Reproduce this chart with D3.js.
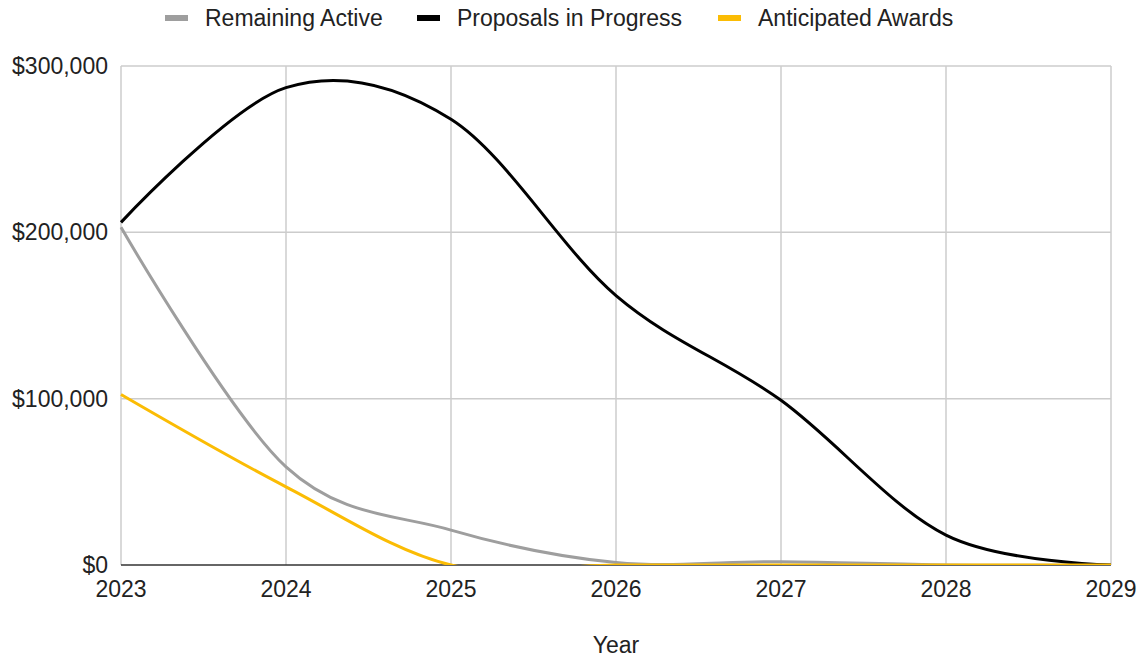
<!DOCTYPE html>
<html>
<head>
<meta charset="utf-8">
<script src="https://cdn.jsdelivr.net/npm/d3@7"></script>
<style>
  body { margin: 0; background: #fff; }
  text { font-family: "Liberation Sans", Arial, sans-serif; }
</style>
</head>
<body>
<div id="chart"></div>
<script>
// data
var years = [2023, 2024, 2025, 2026, 2027, 2028, 2029];
var remainingActive = [203000, 59000, 21000, 1500, 2000, 0, 0];
var proposalsInProgress = [206000, 287000, 268000, 162000, 99000, 18000, 0];
var anticipatedAwards = [102500, 47000, 0, 0, 0, 0, 0];
var yTicks = [0, 100000, 200000, 300000];
var seriesNames = ["Remaining Active", "Proposals in Progress", "Anticipated Awards"];
var seriesColors = ["#9e9e9e", "#000000", "#fbbc04"];

var svgWidth = 1145, svgHeight = 659;
var margin = { top: 66, right: 34, bottom: 94, left: 121 };
var width = svgWidth - margin.left - margin.right;
var height = svgHeight - margin.top - margin.bottom;
var fontSize = 23;

var svg = d3.select("#chart").append("svg")
    .attr("width", svgWidth)
    .attr("height", svgHeight);

var chartGroup = svg.append("g")
    .attr("transform", `translate(${margin.left}, ${margin.top})`);

var xScale = d3.scaleLinear().domain([2023, 2029]).range([0, width]);
var yScale = d3.scaleLinear().domain([0, 300000]).range([height, 0]);

// gridlines
chartGroup.selectAll(".hgrid").data(yTicks.filter(d => d > 0)).enter()
    .append("line")
    .attr("x1", 0).attr("x2", width)
    .attr("y1", d => yScale(d)).attr("y2", d => yScale(d))
    .attr("stroke", "#cccccc").attr("stroke-width", 1.5);
chartGroup.selectAll(".vgrid").data(years).enter()
    .append("line")
    .attr("x1", d => xScale(d)).attr("x2", d => xScale(d))
    .attr("y1", 0).attr("y2", height)
    .attr("stroke", "#cccccc").attr("stroke-width", 1.5);

// y tick labels
chartGroup.selectAll(".ylab").data(yTicks).enter()
    .append("text")
    .attr("x", -13)
    .attr("y", d => yScale(d) + 8)
    .attr("text-anchor", "end")
    .attr("font-size", fontSize)
    .attr("fill", "#222")
    .text(d => "$" + d3.format(",")(d));

// x tick labels
chartGroup.selectAll(".xlab").data(years).enter()
    .append("text")
    .attr("x", d => xScale(d))
    .attr("y", height + 32)
    .attr("text-anchor", "middle")
    .attr("font-size", fontSize)
    .attr("fill", "#222")
    .text(d => d);

// axis title
chartGroup.append("text")
    .attr("x", width / 2)
    .attr("y", height + 88)
    .attr("text-anchor", "middle")
    .attr("font-size", fontSize)
    .attr("fill", "#222")
    .text("Year");

// zero baseline (under the lines)
chartGroup.append("line")
    .attr("x1", 0).attr("x2", width)
    .attr("y1", height).attr("y2", height)
    .attr("stroke", "#333").attr("stroke-width", 1.5);

// clip so overshoot below zero is hidden
svg.append("defs").append("clipPath").attr("id", "plotclip")
    .append("rect").attr("x", -3).attr("y", -3).attr("width", width + 6).attr("height", height + 3);

var line = d3.line()
    .x((d, i) => xScale(years[i]))
    .y(d => yScale(d))
    .curve(d3.curveCardinal.tension(0));

var lineGroup = chartGroup.append("g").attr("clip-path", "url(#plotclip)");
[remainingActive, proposalsInProgress, anticipatedAwards].forEach(function (vals, k) {
    lineGroup.append("path")
        .datum(vals)
        .attr("d", line)
        .attr("fill", "none")
        .attr("stroke", seriesColors[k])
        .attr("stroke-width", 3);
});

// legend
var legendX = [165, 417, 718];
var legend = svg.selectAll(".legend").data(seriesNames).enter()
    .append("g")
    .attr("transform", (d, i) => `translate(${legendX[i]}, 18)`);
legend.append("rect")
    .attr("x", 0).attr("y", -3)
    .attr("width", 23).attr("height", 6)
    .attr("fill", (d, i) => seriesColors[i]);
legend.append("text")
    .attr("x", 40).attr("y", 8)
    .attr("font-size", fontSize)
    .attr("fill", "#222")
    .text(d => d);
</script>
</body>
</html>
